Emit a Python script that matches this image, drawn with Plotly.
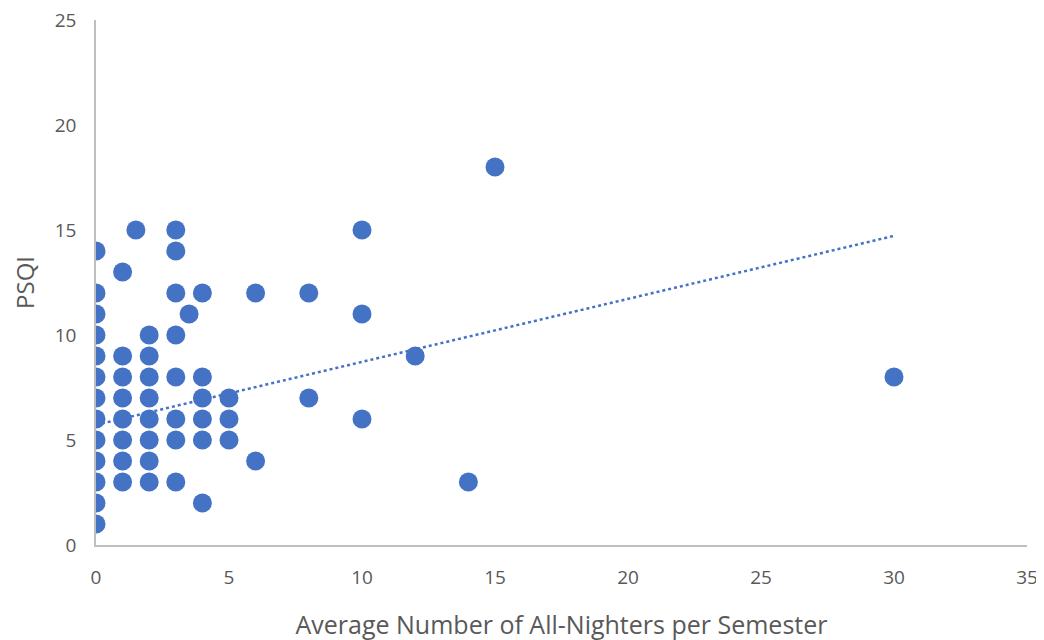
import plotly.graph_objects as go

all_nighters = [0]*13 + [1]*8 + [1.5] + [2]*8 + [3]*8 + [3.5] + [4]*6 + [5]*3 + [6]*2 + [8]*2 + [10]*3 + [12, 14, 15, 30]
psqi = ([1, 2, 3, 4, 5, 6, 7, 8, 9, 10, 11, 12, 14]
        + [3, 4, 5, 6, 7, 8, 9, 13]
        + [15]
        + [3, 4, 5, 6, 7, 8, 9, 10]
        + [3, 5, 6, 8, 10, 12, 14, 15]
        + [11]
        + [2, 5, 6, 7, 8, 12]
        + [5, 6, 7]
        + [4, 12]
        + [7, 12]
        + [6, 11, 15]
        + [9, 3, 18, 8])

# Linear trendline (endpoints at x = 0 and x = 30)
trend_x = [0, 30]
trend_y = [5.72, 14.72]

x_ticks = [0, 5, 10, 15, 20, 25, 30, 35]
y_ticks = [0, 5, 10, 15, 20, 25]

blue = "#4472C4"
fig = go.Figure()
fig.add_trace(go.Scatter(x=trend_x, y=trend_y, mode="lines",
                         line=dict(color=blue, width=2.5, dash="dot"),
                         hoverinfo="skip", showlegend=False))
fig.add_trace(go.Scatter(x=all_nighters, y=psqi, mode="markers",
                         marker=dict(color=blue, size=19, line=dict(width=0)),
                         showlegend=False))

fig.update_layout(
    width=1044, height=640,
    margin=dict(l=88, r=25, t=12, b=103),
    plot_bgcolor="white", paper_bgcolor="white",
    font=dict(family="Open Sans, sans-serif", color="#595959", size=19),
    xaxis=dict(range=[0, 35], tickvals=x_ticks, showgrid=False, zeroline=False,
               showline=True, linecolor="#BFBFBF", linewidth=1.5,
               ticks="", ticklabelstandoff=14, automargin=False,
               ticklabeloverflow="allow",
               title=dict(text="Average Number of All-Nighters per Semester",
                          font=dict(size=25), standoff=28)),
    yaxis=dict(range=[0, 25], tickvals=y_ticks, showgrid=False, zeroline=False,
               showline=True, linecolor="#BFBFBF", linewidth=1.5,
               ticks="", ticklabelstandoff=14, automargin=False,
               ticklabeloverflow="allow",
               title=dict(text="PSQI", font=dict(size=24), standoff=16)),
)
fig.write_html("out.html")
